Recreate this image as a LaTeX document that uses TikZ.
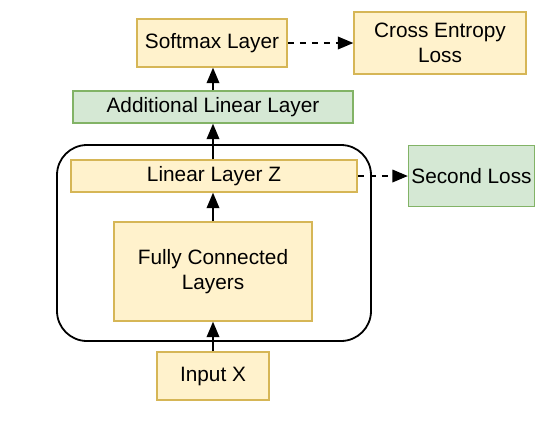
\documentclass[tikz,border=0pt]{standalone}
\usepackage{fontspec}
\setmainfont{Liberation Sans}
\usepackage{tikz}
\usetikzlibrary{arrows}

\definecolor{ylfill}{HTML}{FFF2CC}
\definecolor{yldraw}{HTML}{D6B656}
\definecolor{grfill}{HTML}{D5E8D4}
\definecolor{grdraw}{HTML}{82B366}

\tikzset{
  ybox/.style={draw=yldraw,fill=ylfill,line width=0.75pt,inner sep=0pt,align=center},
  gbox/.style={draw=grdraw,fill=grfill,line width=0.75pt,inner sep=0pt,align=center},
}

\begin{document}
\begin{tikzpicture}[x=0.5pt,y=-0.5pt,font=\fontsize{10.4}{12.6}\selectfont]
\useasboundingbox (0,0) rectangle (555,424);
% outer block
\draw[line width=0.9pt,rounded corners=15pt] (57,145) rectangle (371,341);
\draw
(212,43) node[ybox,minimum width=75pt,minimum height=24pt](sm){Softmax Layer}
(440,43) node[ybox,minimum width=86pt,minimum height=31pt](ce){Cross Entropy\\Loss}
(213,107) node[gbox,minimum width=140pt,minimum height=16pt](add){Additional Linear Layer}
(214,176) node[ybox,minimum width=143pt,minimum height=16pt](linz){Linear Layer Z}
(471.5,176) node[gbox,minimum width=63pt,minimum height=30.5pt](sl){Second Loss}
(213,271.5) node[ybox,minimum width=99pt,minimum height=49.5pt](fc){Fully Connected\\Layers}
(213,376) node[ybox,minimum width=56pt,minimum height=24pt](inp){Input X}
;
\foreach \x/\y in {inp/fc, fc/linz, linz/add}{
\draw[line width=0.75pt,-triangle 45](\x.north -| inp)--(\y.south -| inp);
}
\draw[line width=0.75pt,-triangle 45](add.north -| inp)--(sm.south -| inp);
\foreach \x/\y in {sm/ce, linz/sl}{
\draw[line width=0.75pt,dashed,-triangle 45](\x.east)--(\y.west |- \x.east);
}
\end{tikzpicture}
\end{document}
